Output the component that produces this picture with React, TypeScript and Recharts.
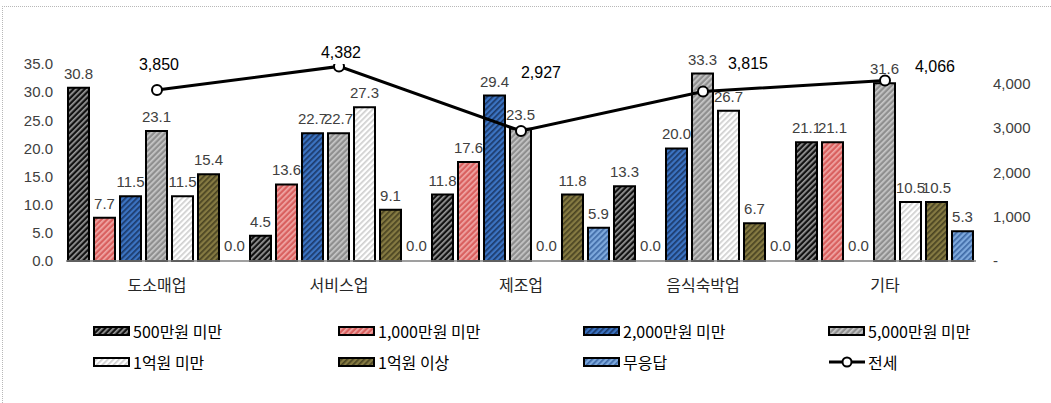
import { ComposedChart, Bar, Line, XAxis, YAxis, LabelList, Rectangle } from 'recharts';

const categories = ['도소매업', '서비스업', '제조업', '음식숙박업', '기타'];
const under500 = [30.8, 4.5, 11.8, 13.3, 21.1];
const under1000 = [7.7, 13.6, 17.6, 0.0, 21.1];
const under2000 = [11.5, 22.7, 29.4, 20.0, 0.0];
const under5000 = [23.1, 22.7, 23.5, 33.3, 31.6];
const under1eok = [11.5, 27.3, 0.0, 26.7, 10.5];
const over1eok = [15.4, 9.1, 11.8, 6.7, 10.5];
const noAnswer = [0.0, 0.0, 5.9, 0.0, 5.3];
const jeonse = [3850, 4382, 2927, 3815, 4066];

const leftTicks = [0, 5, 10, 15, 20, 25, 30, 35];
const rightTicks = [0, 1000, 2000, 3000, 4000];

// label offsets for the 전세 line (as placed in the original)
const lineLabelOffsets = [
  [2, -26],
  [2, -14],
  [20, -59],
  [45, -28],
  [50, -14],
];

const series = [
  { key: 's1', name: '500만원 미만', values: under500, bg: '#111111', stripe: '#9a9a9a' },
  { key: 's2', name: '1,000만원 미만', values: under1000, bg: '#d9605f', stripe: '#f0a8a6' },
  { key: 's3', name: '2,000만원 미만', values: under2000, bg: '#3b73c2', stripe: '#1c3a6a' },
  { key: 's4', name: '5,000만원 미만', values: under5000, bg: '#8f8f8f', stripe: '#c8c8c8' },
  { key: 's5', name: '1억원 미만', values: under1eok, bg: '#ffffff', stripe: '#cfcfcf' },
  { key: 's6', name: '1억원 이상', values: over1eok, bg: '#857a42', stripe: '#4a4422' },
  { key: 's7', name: '무응답', values: noAnswer, bg: '#7ea9dd', stripe: '#3f6aa6' },
];

const data = categories.map((c, i) => {
  const row: any = { name: c, jeonse: jeonse[i] };
  series.forEach((s) => (row[s.key] = s.values[i]));
  return row;
});

const numFont = '"Liberation Sans", Arial, "Noto Sans CJK KR", sans-serif';
const krFont = '"Noto Sans CJK KR", "Liberation Sans", sans-serif';

const LineLabel = (props: any) => {
  const { x, y, value } = props;
  const i = props.index ?? jeonse.indexOf(value);
  const [dx, dy] = lineLabelOffsets[i] || [0, -14];
  return (
    <text
      x={x + dx}
      y={y + dy}
      textAnchor="middle"
      dominantBaseline="central"
      fill="#000"
      fontSize={16}
      fontFamily={numFont}
    >
      {Number(value).toLocaleString('en-US')}
    </text>
  );
};

// zero values keep a tiny invisible bar so their "0.0" label is still drawn
const makeShape = (key: string) => (props: any) => {
  if (props.payload && props.payload[key] === 0) return <g />;
  return <Rectangle {...props} />;
};

const legendItems = [
  ...series.map((s) => ({ ...s, line: false })),
  { key: 'jeonse', name: '전세', line: true } as any,
];

const App = () => {
  return (
    <div style={{ position: 'absolute', left: 0, top: 0, width: 1051, height: 403, background: '#fff' }}>
      <div
        style={{
          position: 'absolute',
          left: 2,
          top: 6,
          right: 0,
          bottom: 0,
          borderTop: '1px dotted #b8b8b8',
          borderLeft: '1px dotted #b8b8b8',
        }}
      />
      <ComposedChart
        width={1051}
        height={300}
        data={data}
        margin={{ top: 64, right: 0, bottom: 0, left: 0 }}
        barCategoryGap={2}
        barGap={5}
        style={{ position: 'absolute', left: 0, top: 0 }}
      >
        <defs>
          {series.map((s) => (
            <pattern
              key={s.key}
              id={'pat-' + s.key}
              width={4}
              height={4}
              patternUnits="userSpaceOnUse"
              patternTransform="rotate(45)"
            >
              <rect width={4} height={4} fill={s.bg} />
              <rect width={1.7} height={4} fill={s.stripe} />
            </pattern>
          ))}
        </defs>
        <XAxis
          dataKey="name"
          height={39}
          tickLine={false}
          tickSize={0}
          tickMargin={19}
          axisLine={{ stroke: '#7f7f7f', strokeWidth: 1.5 }}
          tick={{ fill: '#262626', fontSize: 16, fontFamily: krFont }}
        />
        <YAxis
          yAxisId="left"
          width={66}
          domain={[0, 35]}
          ticks={leftTicks}
          interval={0}
          axisLine={false}
          tickLine={false}
          tickSize={0}
          tickMargin={13}
          tickFormatter={(v: number) => v.toFixed(1)}
          tick={{ fill: '#404040', fontSize: 15, fontFamily: numFont }}
        />
        <YAxis
          yAxisId="right"
          orientation="right"
          width={75}
          domain={[0, 4436]}
          ticks={rightTicks}
          interval={0}
          allowDataOverflow
          axisLine={false}
          tickLine={false}
          tickSize={0}
          tickMargin={17}
          tickFormatter={(v: number) => (v === 0 ? '-' : v.toLocaleString('en-US'))}
          tick={{ fill: '#404040', fontSize: 15, fontFamily: numFont }}
        />
        {series.map((s) => (
          <Bar
            key={s.key}
            dataKey={s.key}
            name={s.name}
            yAxisId="left"
            fill={`url(#pat-${s.key})`}
            stroke="#000"
            strokeWidth={2}
            minPointSize={1}
            shape={makeShape(s.key)}
            isAnimationActive={false}
          >
            <LabelList
              dataKey={s.key}
              position="top"
              offset={9}
              formatter={(v: any) => Number(v).toFixed(1)}
              fill="#404040"
              fontSize={15}
              fontFamily={numFont}
            />
          </Bar>
        ))}
        <Line
          dataKey="jeonse"
          name="전세"
          yAxisId="right"
          stroke="#000"
          strokeWidth={3}
          dot={{ r: 5, fill: '#fff', stroke: '#000', strokeWidth: 2 }}
          label={LineLabel}
          isAnimationActive={false}
        />
      </ComposedChart>
      <div
        style={{
          position: 'absolute',
          left: 93,
          top: 320,
          width: 980,
          display: 'grid',
          gridTemplateColumns: 'repeat(4, 245px)',
          rowGap: 10,
          fontFamily: krFont,
          fontSize: 16,
          color: '#000',
        }}
      >
        {legendItems.map((it: any) => (
          <div key={it.key} style={{ display: 'flex', alignItems: 'center', height: 21 }}>
            <svg width={38} height={12} style={{ marginRight: 2 }}>
              {it.line ? (
                <g>
                  <line x1={1} y1={6} x2={37} y2={6} stroke="#000" strokeWidth={3} />
                  <circle cx={19} cy={6} r={4.5} fill="#fff" stroke="#000" strokeWidth={2} />
                </g>
              ) : (
                <rect x={1} y={2} width={35} height={8} fill={`url(#pat-${it.key})`} stroke="#000" strokeWidth={2} />
              )}
            </svg>
            <span>{it.name}</span>
          </div>
        ))}
      </div>
    </div>
  );
};

export default App;
